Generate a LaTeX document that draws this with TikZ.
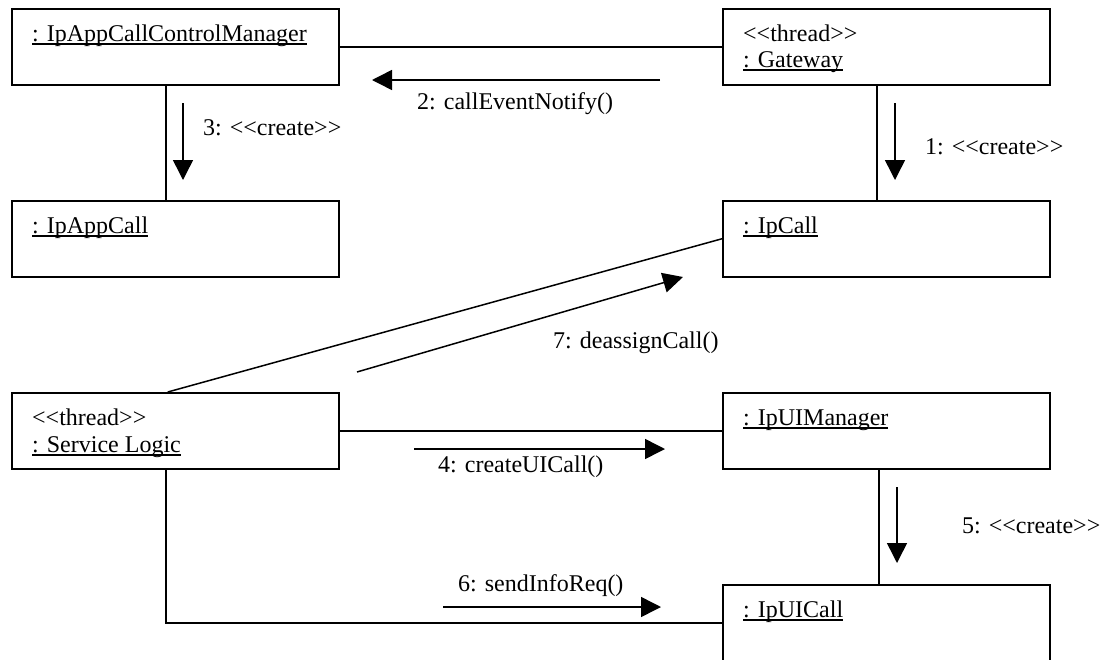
\documentclass[tikz,border=0pt]{standalone}
\usepackage{fontspec}
\setmainfont{Liberation Serif}[Ligatures=TeXOff]
\usetikzlibrary{arrows.meta}
\newcommand{\ulobj}[1]{\setbox0\hbox{#1}\rlap{\vrule width\wd0 height -2.4pt depth 3.6pt}\box0}

\begin{document}
\begin{tikzpicture}[
  x=1pt, y=-1pt,
  every node/.style={font=\fontsize{24}{28}\selectfont},
  object/.style={draw, line width=1.5pt, minimum width=327pt, minimum height=76pt, anchor=north west, inner sep=0pt},
  objtext/.style={anchor=base west, inner sep=0pt},
  link/.style={line width=1.5pt},
  msg/.style={line width=1.5pt, -{Triangle[length=20pt,width=20pt]}},
  msglabel/.style={anchor=base west, inner sep=0pt}
]
\useasboundingbox (0,0) rectangle (1101,659);

\node[object] (mgr) at (11,8) {};
\node[object] (appcall) at (11,200) {};
\node[object] (gw) at (722,8) {};
\node[object] (ipcall) at (722,200) {};
\node[object] (sl) at (11,392) {};
\node[object] (uimgr) at (722,392) {};
\node[object] (uicall) at (722,584) {};

\node[objtext] (mgrname) at ([shift={(21,33)}]mgr.north west) {\ulobj{: IpAppCallControlManager}};
\node[objtext] (appcallname) at ([shift={(21,33)}]appcall.north west) {\ulobj{: IpAppCall}};
\node[objtext] (gwst) at ([shift={(21,33)}]gw.north west) {<<thread>>};
\node[objtext] (gwname) at ([shift={(21,59)}]gw.north west) {\ulobj{: Gateway}};
\node[objtext] (ipcallname) at ([shift={(21,33)}]ipcall.north west) {\ulobj{: IpCall}};
\node[objtext] (slst) at ([shift={(21,33)}]sl.north west) {<<thread>>};
\node[objtext] (slname) at ([shift={(21,60)}]sl.north west) {\ulobj{: Service Logic}};
\node[objtext] (uimgrname) at ([shift={(21,33)}]uimgr.north west) {\ulobj{: IpUIManager}};
\node[objtext] (uicallname) at ([shift={(21,33)}]uicall.north west) {\ulobj{: IpUICall}};

\draw[link] (mgr) -- (gw);
\draw[link] ([xshift=-9.5pt]mgr.south) -- ([xshift=-9.5pt]appcall.north);
\draw[link] ([xshift=-9.5pt]gw.south) -- ([xshift=-9.5pt]ipcall.north);
\draw[link] (ipcall.west) -- ([xshift=-7.5pt]sl.north);
\draw[link] (sl) -- (uimgr);
\draw[link] ([xshift=-7.5pt]uimgr.south) -- ([xshift=-7.5pt]uicall.north);
\draw[link] ([xshift=-9.5pt]sl.south) |- (uicall.west);

\coordinate (m1a) at (895,103);
\coordinate (m1b) at (895,180);
\coordinate (m2a) at (660,80);
\coordinate (m2b) at (372,80);
\coordinate (m3a) at (183,103);
\coordinate (m3b) at (183,180);
\coordinate (m4a) at (414,449);
\coordinate (m4b) at (665,449);
\coordinate (m5a) at (897,487);
\coordinate (m5b) at (897,563);
\coordinate (m6a) at (443,607);
\coordinate (m6b) at (661,607);
\coordinate (m7a) at (357,372);
\coordinate (m7b) at (683,277);

\draw[msg] (m1a) -- (m1b);
\draw[msg] (m2a) -- (m2b);
\draw[msg] (m3a) -- (m3b);
\draw[msg] (m4a) -- (m4b);
\draw[msg] (m5a) -- (m5b);
\draw[msg] (m6a) -- (m6b);
\draw[msg] (m7a) -- (m7b);

\node[msglabel] (lbl1) at (925,154) {1: <<create>>};
\node[msglabel] (lbl2) at (417,109) {2: callEventNotify()};
\node[msglabel] (lbl3) at (203,135) {3: <<create>>};
\node[msglabel] (lbl4) at (438,472) {4: createUICall()};
\node[msglabel] (lbl5) at (962,533) {5: <<create>>};
\node[msglabel] (lbl6) at (458,591) {6: sendInfoReq()};
\node[msglabel] (lbl7) at (553,348) {7: deassignCall()};

\end{tikzpicture}
\end{document}
